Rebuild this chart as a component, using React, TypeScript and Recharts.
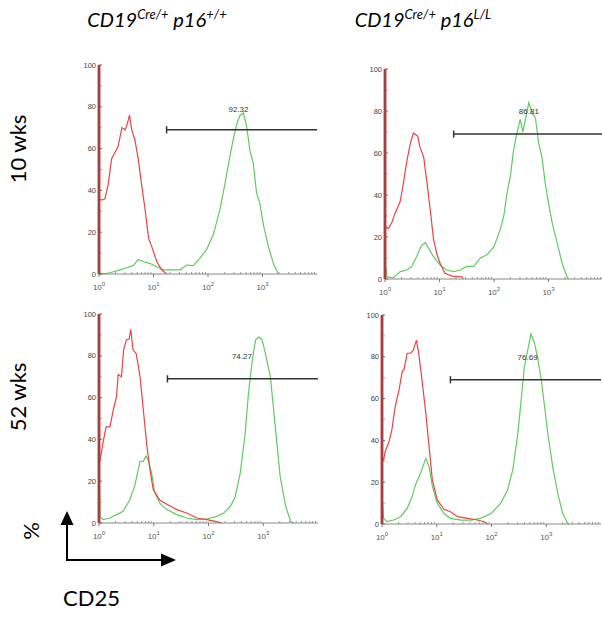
import React from 'react'
import { ComposedChart, Line, XAxis, YAxis, ReferenceLine, ReferenceDot } from 'recharts'

// x = log10(CD25 intensity), y = % of max
type Pt = [number, number]

const yTicks = [0, 10, 20, 30, 40, 50, 60, 70, 80, 90, 100]
const decades = [0, 1, 2, 3]
const minorSteps = [2, 3, 4, 5, 6, 7, 8, 9]
const xTicks = decades.flatMap((d) => [d, ...minorSteps.map((k) => d + Math.log10(k))])

const titles = ['+/+', 'L/L']
const rowLabels = ['10 wks', '52 wks']

// the first channel of the red (control) histogram piles up to 100 in every panel
const redFirstBin: Pt[] = [[0, 0], [0, 100]]

const tlRed: Pt[] = [[0,36],[0.05,35.4],[0.11,36],[0.17,43],[0.23,55],[0.29,58],[0.35,61],[0.42,70],[0.48,69],[0.51,71],[0.56,76],[0.6,69],[0.66,64],[0.72,55],[0.78,43],[0.84,32],[0.91,17],[0.97,13],[1.06,6],[1.15,2],[1.24,0]]
const tlGreen: Pt[] = [[0,1],[0.05,0],[0.2,0.6],[0.39,2],[0.51,3],[0.63,4],[0.72,7],[0.81,6],[0.94,5],[1.06,3.5],[1.18,2],[1.3,2],[1.49,2],[1.61,4.3],[1.73,4],[1.85,7.5],[1.98,12],[2.1,19],[2.22,31],[2.31,43],[2.4,56],[2.46,64],[2.53,72],[2.59,76],[2.65,77],[2.71,70.5],[2.77,59],[2.83,53],[2.89,39],[2.95,34],[3.02,23],[3.11,13],[3.2,5],[3.29,0]]

const trRed: Pt[] = [[0,25],[0.06,24],[0.12,26.5],[0.18,31],[0.28,37],[0.34,46],[0.4,56],[0.46,64],[0.52,69.5],[0.6,68],[0.64,63],[0.71,58],[0.77,46],[0.83,33],[0.89,19],[0.95,12],[1.01,7.5],[1.1,2.7],[1.23,1.4],[1.41,1],[1.44,0]]
const trGreen: Pt[] = [[0,0],[0,7.5],[0.04,1],[0.15,0.6],[0.28,3.5],[0.4,4.3],[0.49,6],[0.58,10.6],[0.67,16],[0.74,17.3],[0.8,14.6],[0.89,10.6],[1.01,6.7],[1.13,4.3],[1.26,3.5],[1.38,4.3],[1.5,6],[1.63,6],[1.75,10],[1.87,11.5],[2.0,15.4],[2.12,24],[2.18,30],[2.24,41],[2.3,49],[2.36,61.5],[2.42,69.5],[2.48,76],[2.53,70],[2.58,76.6],[2.64,84],[2.7,79],[2.76,76.6],[2.82,64.7],[2.88,58],[2.94,45.6],[3.0,36],[3.07,26.5],[3.16,17],[3.25,7.5],[3.34,1],[3.37,0]]

const blRed: Pt[] = [[0,31],[0.02,30],[0.07,38],[0.13,46],[0.2,46],[0.26,54],[0.32,60.5],[0.35,71],[0.41,70],[0.45,83],[0.5,87.6],[0.55,88],[0.58,92.7],[0.62,83],[0.68,81],[0.75,70],[0.81,54],[0.87,38],[0.93,25.5],[0.99,16],[1.11,11],[1.24,9],[1.42,6.4],[1.6,4.8],[1.79,2.4],[1.97,1.6],[2.21,0.3],[2.24,0]]
const blGreen: Pt[] = [[0,0],[0,31],[0.02,3],[0.07,1.6],[0.2,2.4],[0.32,4],[0.44,5.6],[0.56,11],[0.65,17.5],[0.75,29.5],[0.81,29.5],[0.86,32],[0.9,30],[0.96,24],[1.02,14.3],[1.11,9.5],[1.24,6.4],[1.42,4],[1.6,2.4],[1.79,1.6],[1.97,1.9],[2.15,3.2],[2.28,4.8],[2.4,8],[2.49,12.7],[2.58,24],[2.67,43],[2.73,62],[2.8,78],[2.86,87.6],[2.92,89],[2.98,87.6],[3.04,81],[3.13,70],[3.19,54],[3.25,38],[3.31,22],[3.41,8],[3.5,0.8],[3.56,0]]

const brRed: Pt[] = [[0,32],[0.03,30.6],[0.06,35],[0.12,38.6],[0.18,45],[0.24,56],[0.31,64],[0.37,73],[0.4,73.7],[0.46,81.7],[0.52,81.7],[0.57,83],[0.63,88],[0.67,81.7],[0.73,69],[0.8,53],[0.86,37],[0.92,21],[1.01,11.5],[1.13,7],[1.25,5.9],[1.38,3.5],[1.56,2.7],[1.74,1.9],[1.87,1.1],[1.93,0]]
const brGreen: Pt[] = [[0,0],[0,13],[0.03,2.7],[0.09,1.1],[0.21,1.9],[0.34,3.5],[0.46,7.5],[0.55,13],[0.61,18.7],[0.7,24],[0.8,31.4],[0.86,27.4],[0.92,18],[1.01,10],[1.13,5],[1.25,2.7],[1.44,1.9],[1.62,1.9],[1.8,2.7],[1.99,5],[2.17,10],[2.29,16],[2.39,26],[2.48,43],[2.54,59],[2.6,75],[2.66,83],[2.72,91],[2.78,87],[2.84,80],[2.91,69],[2.97,56],[3.03,43],[3.12,27],[3.21,14.7],[3.3,5],[3.39,0.3],[3.42,0]]

// gate marker per panel (tl, tr, bl, br)
const gateStart = [1.24, 1.26, 1.25, 1.25]
const gateLevel = [69, 69, 69, 69]
const gateText = ['92.32', '86.81', '74.27', '76.69']
const gateTextX = [2.56, 2.64, 2.61, 2.66]
const gateTextY = [79, 80, 80, 80]

const RED = '#e84444'
const GREEN = '#5fcb5f'

const toRows = (pts: Pt[]) => pts.map(([x, y]) => ({ x, y }))

function LogTick(props: any) {
  const { x, y, payload } = props
  const v = payload.value
  if (Number.isInteger(v)) {
    return (
      <g>
        <line x1={x} x2={x} y1={y} y2={y + 3} stroke="#777" />
        <text x={x} y={y + 16} textAnchor="middle" fontSize={8} fill="#555" fontFamily="Liberation Sans">
          10<tspan dy={-4} fontSize={6}>{v}</tspan>
        </text>
      </g>
    )
  }
  return <line x1={x} x2={x} y1={y} y2={y - 2} stroke="#999" />
}

function PctTick(props: any) {
  const { x, y, payload } = props
  const v = payload.value
  if (v % 20 === 0) {
    return (
      <g>
        <line x1={x} x2={x + 3} y1={y} y2={y} stroke="#666" />
        <text x={x - 3} y={y + 2.5} textAnchor="end" fontSize={7.5} fill="#444" fontFamily="Liberation Sans">{v}</text>
      </g>
    )
  }
  return <line x1={x + 1} x2={x + 3} y1={y} y2={y} stroke="#999" />
}

interface PanelProps {
  idx: number
  red: Pt[]
  green: Pt[]
  left: number
  top: number
  w: number
  h: number
  topColor: string
  rightColor: string
}

function Panel({ idx, red, green, left, top, w, h, topColor, rightColor }: PanelProps) {
  const ml = 40, mt = 12, mb = 30, mr = 6
  const gx = gateStart[idx], gy = gateLevel[idx]
  return (
    <div style={{ position: 'absolute', left: left - ml, top: top - mt }}>
      <ComposedChart width={w + ml + mr} height={h + mt + mb} margin={{ top: mt, right: mr, bottom: 0, left: 0 }}>
        <XAxis xAxisId="b" dataKey="x" type="number" domain={[0, 4]} ticks={xTicks} interval={0}
          tick={<LogTick />} tickSize={0} tickMargin={0} height={mb} stroke="#888" />
        <XAxis xAxisId="t" orientation="top" dataKey="x" type="number" domain={[0, 4]} tick={false}
          tickLine={false} height={0} stroke={topColor} />
        <YAxis yAxisId="l" type="number" domain={[0, 100]} ticks={yTicks} interval={0} width={ml} tickSize={0}
          tickMargin={0} tick={<PctTick />} stroke="#444" />
        <YAxis yAxisId="r" orientation="right" type="number" domain={[0, 100]} tick={false} tickLine={false}
          width={0} stroke={rightColor} />
        <Line xAxisId="b" yAxisId="l" data={toRows(green)} dataKey="y" type="linear" stroke={GREEN}
          strokeWidth={1.2} dot={false} isAnimationActive={false} />
        <Line xAxisId="b" yAxisId="l" data={toRows(redFirstBin)} dataKey="y" type="linear" stroke={RED}
          strokeWidth={3} dot={false} isAnimationActive={false} />
        <Line xAxisId="b" yAxisId="l" data={toRows(red)} dataKey="y" type="linear" stroke={RED}
          strokeWidth={1.2} dot={false} isAnimationActive={false} />
        <ReferenceLine xAxisId="b" yAxisId="l" segment={[{ x: gx, y: gy }, { x: 4, y: gy }]} stroke="#333" strokeWidth={1.5} />
        <ReferenceLine xAxisId="b" yAxisId="l" segment={[{ x: gx, y: gy - 1.7 }, { x: gx, y: gy + 1.7 }]} stroke="#333" strokeWidth={1.5} />
        <ReferenceDot xAxisId="b" yAxisId="l" x={gateTextX[idx]} y={gateTextY[idx]} r={0} fill="none" stroke="none"
          label={{ value: gateText[idx], position: 'center', fontSize: 8, fill: '#333', fontFamily: 'Liberation Sans' }} />
      </ComposedChart>
    </div>
  )
}

function Title({ cx, sup }: { cx: number; sup: string }) {
  const supStyle: React.CSSProperties = { fontSize: '0.65em', position: 'relative', top: '-0.6em' }
  return (
    <div style={{ position: 'absolute', left: cx, top: 9, transform: 'translateX(-50%)', fontStyle: 'italic',
      fontSize: 20, lineHeight: 1, whiteSpace: 'nowrap' }}>
      CD19<span style={supStyle}>Cre/+</span> p16<span style={supStyle}>{sup}</span>
    </div>
  )
}

function Rotated({ cx, cy, text, size }: { cx: number; cy: number; text: string; size: number }) {
  return (
    <div style={{ position: 'absolute', left: cx, top: cy, transform: 'translate(-50%, -50%) rotate(-90deg)',
      fontSize: size, lineHeight: 1, whiteSpace: 'nowrap' }}>
      {text}
    </div>
  )
}

export default function App() {
  return (
    <div style={{ position: 'absolute', left: 0, top: 0, width: 602, height: 618, overflow: 'hidden',
      background: '#fff', fontFamily: 'Lato, sans-serif', color: '#000' }}>
      <Title cx={157} sup={titles[0]} />
      <Title cx={423} sup={titles[1]} />
      <Rotated cx={18} cy={149} text={rowLabels[0]} size={22} />
      <Rotated cx={18} cy={397} text={rowLabels[1]} size={22} />
      <Rotated cx={31} cy={531} text="%" size={22} />

      <Panel idx={0} red={tlRed} green={tlGreen} left={99} top={65} w={218} h={209} topColor="#c8c8c8" rightColor="#999" />
      <Panel idx={1} red={trRed} green={trGreen} left={385} top={69} w={218} h={210} topColor="#555" rightColor="#555" />
      <Panel idx={2} red={blRed} green={blGreen} left={99} top={314} w={219} h={209} topColor="#444" rightColor="#444" />
      <Panel idx={3} red={brRed} green={brGreen} left={382} top={315} w={219} h={209} topColor="#555" rightColor="#555" />

      <svg width={602} height={618} style={{ position: 'absolute', left: 0, top: 0, pointerEvents: 'none' }}>
        <line x1={67} y1={561} x2={67} y2={522} stroke="#000" strokeWidth={2} />
        <polygon points="67,511 60.5,525 73.5,525" fill="#000" />
        <line x1={66} y1={560} x2={163} y2={560} stroke="#000" strokeWidth={2} />
        <polygon points="176,560 161,553.5 161,566.5" fill="#000" />
      </svg>
      <div style={{ position: 'absolute', left: 63, top: 587, fontSize: 22, lineHeight: 1 }}>CD25</div>
    </div>
  )
}
